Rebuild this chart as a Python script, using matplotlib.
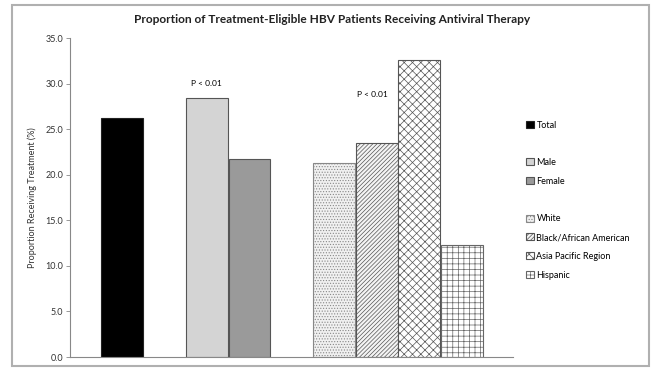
import matplotlib.pyplot as plt
from matplotlib.patches import Patch, Rectangle

plt.rcParams['font.family'] = ['Lato', 'DejaVu Sans']
plt.rcParams['hatch.linewidth'] = 0.5

# data
labels = ['Total', 'Male', 'Female', 'White', 'Black/African American',
          'Asia Pacific Region', 'Hispanic']
values = [26.2, 28.4, 21.7, 21.3, 23.5, 32.6, 12.3]
positions = [0, 2, 3, 5, 6, 7, 8]
colors = ['#000000', '#d4d4d4', '#9a9a9a', '#f0f0f0', '#f4f4f4', '#ffffff', '#ffffff']
hatches = [None, None, None, '......', '////////', 'xxxx', '+++']
edges = ['#222222', '#555555', '#555555', '#888888', '#555555', '#555555', '#666666']
pvals = [(2, 30.0, 'P < 0.01'), (5.9, 28.8, 'P < 0.01')]
yticks = [0, 5, 10, 15, 20, 25, 30, 35]

fig = plt.figure(figsize=(6.56, 3.69), dpi=100)
fig.patches.append(Rectangle((0.018, 0.008), 0.972, 0.978, transform=fig.transFigure,
                             fill=False, edgecolor='#b0b0b0', linewidth=1.5))
ax = fig.add_axes([0.1067, 0.0325, 0.675, 0.8645])

bars = []
for i in range(len(values)):
    b = ax.bar(positions[i], values[i], width=0.98, color=colors[i],
               edgecolor=edges[i], linewidth=0.8, hatch=hatches[i], label=labels[i])
    bars.append(b[0])

for x, y, txt in pvals:
    ax.text(x, y, txt, ha='center', va='center', fontsize=6)

ax.set_xlim(-1.22, 9.2)
ax.set_ylim(0, 35)
ax.set_yticks(yticks)
ax.set_yticklabels(['%.1f' % v for v in yticks], fontsize=6.5, color='#333333')
ax.set_xticks([])
ax.tick_params(axis='y', length=3, width=0.6, color='#888888', pad=2)
for s in ['top', 'right']:
    ax.spines[s].set_visible(False)
ax.spines['left'].set_color('#888888')
ax.spines['bottom'].set_color('#888888')
ax.set_ylabel('Proportion Receiving Treatment (%)', fontsize=6.5, labelpad=6, color='#333333')

fig.text(0.506, 0.948, 'Proportion of Treatment-Eligible HBV Patients Receiving Antiviral Therapy',
         ha='center', va='center', fontsize=8.6, fontweight='bold', color='#222222')

blank = Patch(visible=False)
handles = [bars[0], blank, bars[1], bars[2], blank, bars[3], bars[4], bars[5], bars[6]]
names = ['Total', ' ', 'Male', 'Female', ' ', 'White', 'Black/African American',
         'Asia Pacific Region', 'Hispanic']
fig.legend(handles, names, loc='upper left', bbox_to_anchor=(0.797, 0.683),
           frameon=False, fontsize=6.5, handlelength=0.8, handleheight=0.8,
           handletextpad=0.3, labelspacing=1.08, borderaxespad=0)

fig.savefig('out.png', dpi=100)
